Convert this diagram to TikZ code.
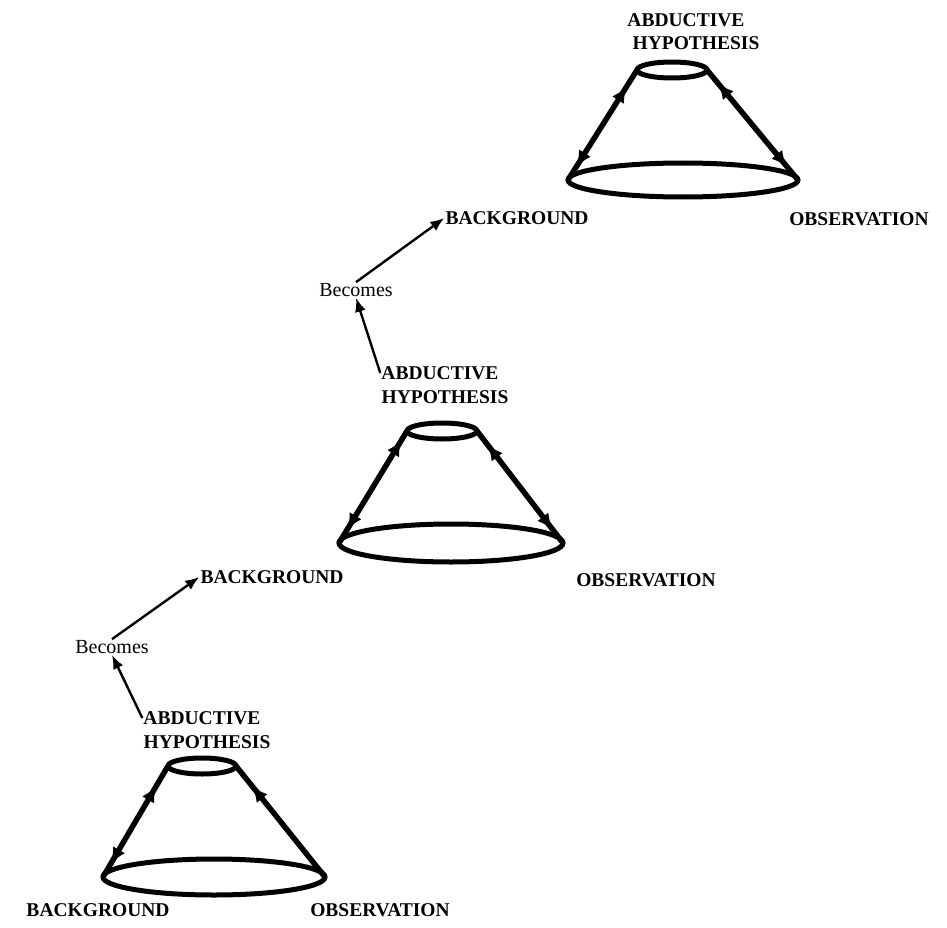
\documentclass[tikz,border=0pt]{standalone}
\usepackage{fontspec}
\setmainfont{Liberation Serif}
\usetikzlibrary{arrows.meta,shapes.geometric,decorations.markings}
\begin{document}
\begin{tikzpicture}[x=1pt,y=-1pt,
  lbl/.style={font=\bfseries\fontsize{19.5}{22}\selectfont, inner sep=1pt},
  becomes/.style={font=\fontsize{20}{22}\selectfont, inner sep=1pt},
  rim/.style={draw, ellipse, line width=5pt, inner sep=0pt, outer sep=0pt},
  side/.style={line width=5.5pt},
  updown/.style={side, postaction={decorate}, decoration={markings,
    mark=at position #1 with {\arrowreversed{Latex[length=16pt,width=14pt]}},
    mark=at position 0.88 with {\arrow{Latex[length=16pt,width=14pt]}}}},
  uponly/.style={side, postaction={decorate}, decoration={markings,
    mark=at position #1 with {\arrowreversed{Latex[length=16pt,width=14pt]}}}},
  link/.style={line width=2.4pt, -{Latex[length=14pt,width=11pt]}}
]
\useasboundingbox (0,0) rectangle (947,928);

% ---------- bottom cone ----------
\node[rim, minimum width=68pt, minimum height=16pt] (t1) at (202,766) {};
\node[rim, minimum width=222pt, minimum height=36pt] (b1) at (214,877) {};
\node[lbl] (ab1) at (202,718) {ABDUCTIVE};
\node[lbl] (hy1) at (207,742) {HYPOTHESIS};
\node[lbl] (bg1) at (98,910) {BACKGROUND};
\node[lbl] (ob1) at (380,910) {OBSERVATION};
\node[becomes] (be1) at (112,647) {Becomes};

% ---------- middle cone ----------
\node[rim, minimum width=70pt, minimum height=16pt] (t2) at (442,431) {};
\node[rim, minimum width=224pt, minimum height=38pt] (b2) at (451,543) {};
\node[lbl] (ab2) at (440,373) {ABDUCTIVE};
\node[lbl] (hy2) at (445,397) {HYPOTHESIS};
\node[lbl] (bg2) at (272,577) {BACKGROUND};
\node[lbl] (ob2) at (646,580) {OBSERVATION};
\node[becomes] (be2) at (356,290) {Becomes};

% ---------- top cone ----------
\node[rim, minimum width=70pt, minimum height=16pt] (t3) at (672,70) {};
\node[rim, minimum width=230pt, minimum height=34pt] (b3) at (683,180) {};
\node[lbl] (ab3) at (686,20) {ABDUCTIVE};
\node[lbl] (hy3) at (696,43) {HYPOTHESIS};
\node[lbl] (bg3) at (517,218) {BACKGROUND};
\node[lbl] (ob3) at (859,219) {OBSERVATION};

% ---------- cone sides ----------
\draw[updown=0.18] (t1.west) -- (b1.west);
\draw[uponly=0.18] (t1.east) -- (b1.east);
\draw[updown=0.08] (t2.west) -- (b2.west);
\draw[updown=0.12] (t2.east) -- (b2.east);
\draw[updown=0.15] (t3.west) -- (b3.west);
\draw[updown=0.12] (t3.east) -- (b3.east);

% ---------- becomes links ----------
\draw[link] (ab1.west) -- (be1.south);
\draw[link] (be1.north) -- (bg2.west);
\draw[link] (ab2.west) -- (be2.south);
\draw[link] (be2.north) -- (bg3.west);
\end{tikzpicture}
\end{document}
